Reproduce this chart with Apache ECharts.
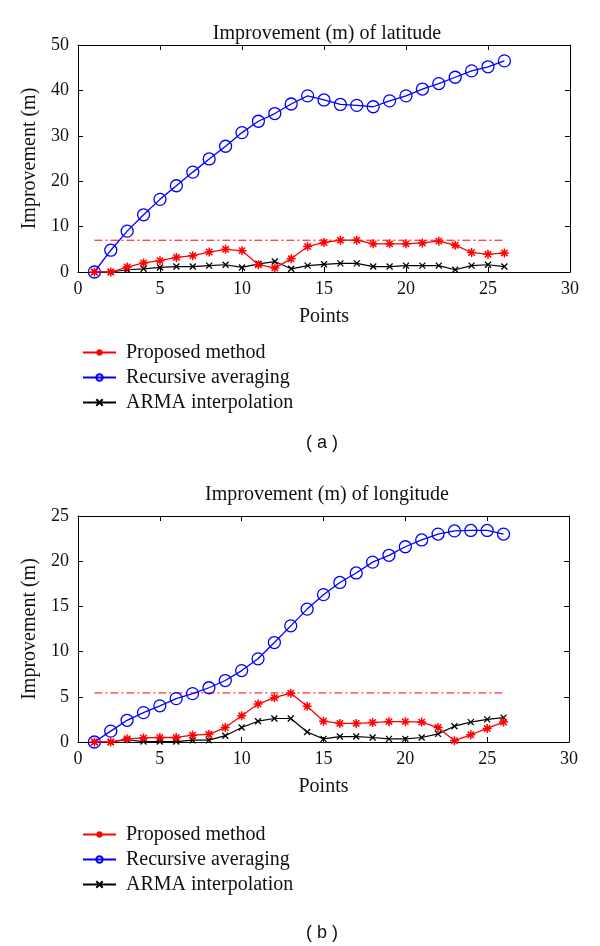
<!DOCTYPE html>
<html>
<head>
<meta charset="utf-8">
<script src="https://cdn.jsdelivr.net/npm/echarts@6/dist/echarts.min.js"></script>
<style>html,body{margin:0;padding:0;background:#fff}#c{width:600px;height:946px}</style>
</head>
<body>
<div id="c"></div>
<script>
// ---- data ----
const points = [1,2,3,4,5,6,7,8,9,10,11,12,13,14,15,16,17,18,19,20,21,22,23,24,25,26];
const seriesNames = ['Proposed method','Recursive averaging','ARMA interpolation'];
const latProposed = [0,0,1.1,2.0,2.5,3.2,3.6,4.4,5.0,4.7,1.6,0.9,2.9,5.6,6.5,7.0,7.0,6.2,6.2,6.2,6.4,6.8,5.9,4.3,3.9,4.2];
const latRecursive = [0,4.8,9.0,12.6,16.0,19.0,22.0,24.9,27.7,30.7,33.2,34.9,37.0,38.8,37.9,36.9,36.7,36.4,37.7,38.8,40.3,41.5,42.9,44.3,45.2,46.5];
const latArma = [0,0,0.5,0.7,1.0,1.2,1.2,1.4,1.6,1.0,1.8,2.3,0.7,1.4,1.7,1.9,1.9,1.2,1.2,1.4,1.4,1.4,0.5,1.4,1.6,1.2];
const latThreshold = 7.0;
const lonProposed = [0,0,0.35,0.45,0.5,0.5,0.75,0.85,1.6,2.9,4.2,4.9,5.4,3.95,2.3,2.05,2.05,2.15,2.25,2.25,2.2,1.6,0.15,0.8,1.5,2.2];
const lonRecursive = [0,1.2,2.4,3.25,4.0,4.8,5.35,6.0,6.8,7.9,9.2,11.0,12.85,14.7,16.3,17.65,18.7,19.9,20.65,21.6,22.35,23.0,23.35,23.4,23.4,23.0];
const lonArma = [0,0,0.25,0.05,0.05,0.05,0.2,0.2,0.7,1.6,2.3,2.6,2.6,1.1,0.35,0.6,0.6,0.5,0.35,0.35,0.5,0.9,1.75,2.2,2.5,2.7];
const lonThreshold = 5.43;
const xTicks = {min:0, max:30, interval:5};
const latY = {min:0, max:50, interval:10};
const lonY = {min:0, max:25, interval:5};
const titles = ['Improvement (m) of latitude','Improvement (m) of longitude'];
const panelLabels = ['( a )','( b )'];
const yName = 'Improvement (m)';
const xName = 'Points';

// ---- styling ----
const SERIF = '"Liberation Serif", "DejaVu Serif", serif';
const RED = '#ff0000', BLUE = '#0000ff', BLACK = '#000000';
const STAR = 'path://M0,-10L0,10M-10,0L10,0M-7.07,-7.07L7.07,7.07M-7.07,7.07L7.07,-7.07';
const CROSS = 'path://M-10,-10L10,10M-10,10L10,-10';
const CIRCLE = 'circle';

const pair = arr => arr.map((v,i)=>[points[i], v]);

const grids = [
  {left:78, top:45, width:492, height:227},
  {left:78, top:516, width:491, height:226}
];

function mainX(gi){
  return {type:'value', gridIndex:gi, position:'bottom', min:xTicks.min, max:xTicks.max, interval:xTicks.interval,
    name:xName, nameLocation:'middle', nameGap:35, nameTextStyle:{fontFamily:SERIF, fontSize:20, color:'#111'},
    axisLine:{show:true, onZero:false, lineStyle:{color:'#000', width:1}},
    axisTick:{show:true, inside:true, length:5, lineStyle:{color:'#000'}},
    axisLabel:{fontFamily:SERIF, fontSize:18, color:'#111', margin:8},
    splitLine:{show:false}};
}
function topX(gi){
  return {type:'value', gridIndex:gi, position:'top', min:xTicks.min, max:xTicks.max, interval:xTicks.interval,
    axisLine:{show:true, onZero:false, lineStyle:{color:'#000', width:1}},
    axisTick:{show:true, inside:true, length:5, lineStyle:{color:'#000'}},
    axisLabel:{show:false}, splitLine:{show:false}};
}
function mainY(gi, cfg){
  return {type:'value', gridIndex:gi, position:'left', min:cfg.min, max:cfg.max, interval:cfg.interval,
    name:yName, nameLocation:'middle', nameGap:34, nameTextStyle:{fontFamily:SERIF, fontSize:20, color:'#111'},
    axisLine:{show:true, onZero:false, lineStyle:{color:'#000', width:1}},
    axisTick:{show:true, inside:true, length:5, lineStyle:{color:'#000'}},
    axisLabel:{fontFamily:SERIF, fontSize:18, color:'#111', margin:9},
    splitLine:{show:false}};
}
function rightY(gi, cfg){
  return {type:'value', gridIndex:gi, position:'right', min:cfg.min, max:cfg.max, interval:cfg.interval,
    axisLine:{show:true, onZero:false, lineStyle:{color:'#000', width:1}},
    axisTick:{show:true, inside:true, length:5, lineStyle:{color:'#000'}},
    axisLabel:{show:false}, splitLine:{show:false}};
}

function makeSeries(gi, prop, rec, arma, thr){
  const xi = gi*2, yi = gi*2;
  return [
    {name:seriesNames[0], type:'line', xAxisIndex:xi, yAxisIndex:yi, data:pair(prop),
      symbol:STAR, symbolSize:9, z:4,
      itemStyle:{color:RED, borderColor:RED, borderWidth:1.5},
      lineStyle:{color:RED, width:1.3}},
    {name:seriesNames[1], type:'line', xAxisIndex:xi, yAxisIndex:yi, data:pair(rec),
      symbol:CIRCLE, symbolSize:12, z:3,
      itemStyle:{color:'rgba(0,0,0,0)', borderColor:BLUE, borderWidth:1.3},
      lineStyle:{color:BLUE, width:1.3}},
    {name:seriesNames[2], type:'line', xAxisIndex:xi, yAxisIndex:yi, data:pair(arma),
      symbol:CROSS, symbolSize:6, z:2,
      itemStyle:{color:BLACK, borderColor:BLACK, borderWidth:1.3},
      lineStyle:{color:BLACK, width:1.2}},
    {name:'threshold'+gi, type:'line', xAxisIndex:xi, yAxisIndex:yi,
      data:[[points[0], thr],[points[points.length-1], thr]],
      symbol:'none', silent:true, z:1,
      lineStyle:{color:RED, width:1, type:[8,3,2,3]}}
  ];
}

const legendBase = {data:seriesNames, orient:'vertical', left:77, itemWidth:33, itemHeight:8, itemGap:4,
  textStyle:{fontFamily:SERIF, fontSize:20, lineHeight:21, color:'#111', padding:[0,0,0,5]}};

const chart = echarts.init(document.getElementById('c'), null, {renderer:'canvas'});
chart.setOption({
  animation:false,
  backgroundColor:'#fff',
  title:[
    {text:titles[0], left:322, top:19, textAlign:'center', textStyle:{fontFamily:SERIF, fontSize:20, fontWeight:'normal', color:'#111'}},
    {text:titles[1], left:322, top:480, textAlign:'center', textStyle:{fontFamily:SERIF, fontSize:20, fontWeight:'normal', color:'#111'}}
  ],
  grid:grids,
  xAxis:[mainX(0), topX(0), mainX(1), topX(1)],
  yAxis:[mainY(0, latY), rightY(0, latY), mainY(1, lonY), rightY(1, lonY)],
  legend:[
    Object.assign({top:337}, legendBase),
    Object.assign({top:819}, legendBase)
  ],
  graphic:[
    {type:'text', left:306, top:434, style:{text:panelLabels[0], font:'18px "Liberation Sans", Arial, sans-serif', fill:'#111'}},
    {type:'text', left:306, top:924, style:{text:panelLabels[1], font:'18px "Liberation Sans", Arial, sans-serif', fill:'#111'}}
  ],
  series:[].concat(
    makeSeries(0, latProposed, latRecursive, latArma, latThreshold),
    makeSeries(1, lonProposed, lonRecursive, lonArma, lonThreshold)
  )
});
</script>
</body>
</html>
